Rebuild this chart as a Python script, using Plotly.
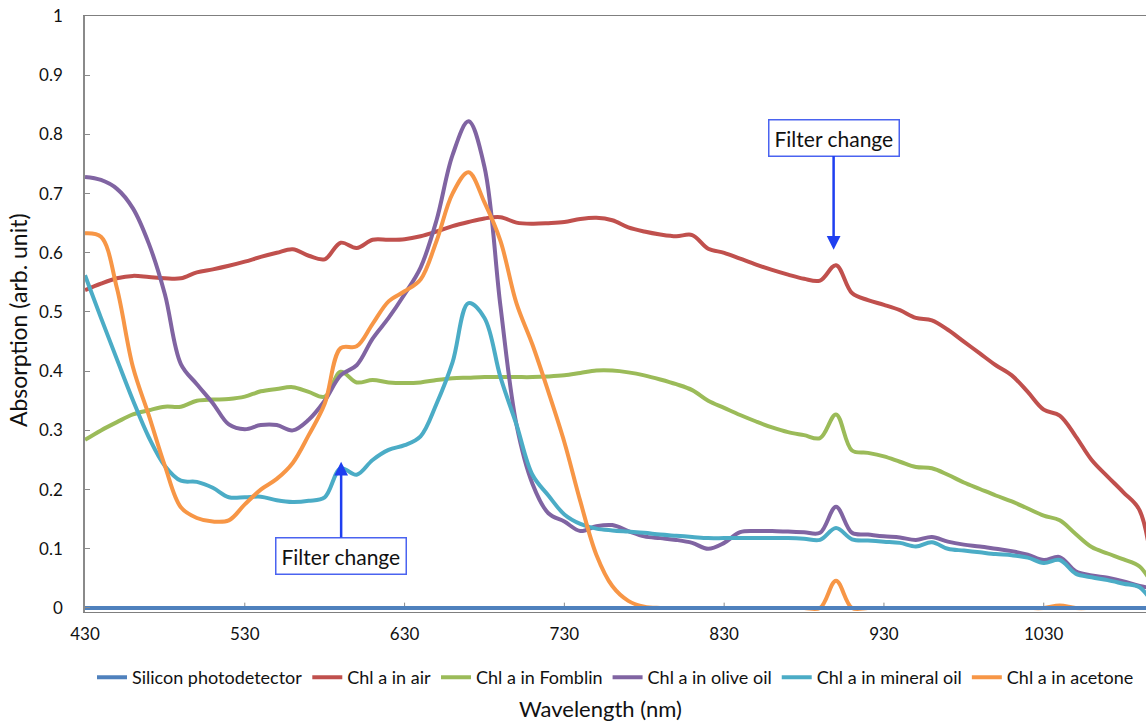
import plotly.graph_objects as go

# Wavelength grid (nm)
wavelength = list(range(430, 1101, 10))

silicon = [0.0] * len(wavelength)

chl_air = [0.537, 0.548, 0.557, 0.561, 0.559, 0.557, 0.557, 0.567, 0.572, 0.578,
           0.585, 0.593, 0.600, 0.606, 0.595, 0.589, 0.617, 0.608, 0.622, 0.622,
           0.623, 0.628, 0.636, 0.645, 0.652, 0.658, 0.660, 0.651, 0.649, 0.650,
           0.652, 0.657, 0.659, 0.655, 0.643, 0.636, 0.631, 0.628, 0.630, 0.607,
           0.600, 0.590, 0.580, 0.571, 0.563, 0.556, 0.553, 0.579, 0.532, 0.520,
           0.512, 0.503, 0.490, 0.486, 0.470, 0.450, 0.430, 0.410, 0.393, 0.365,
           0.335, 0.325, 0.290, 0.250, 0.222, 0.195, 0.165, 0.020]

chl_fomblin = [0.284, 0.300, 0.314, 0.327, 0.334, 0.340, 0.340, 0.350, 0.352, 0.353,
               0.357, 0.366, 0.370, 0.373, 0.365, 0.357, 0.399, 0.381, 0.385, 0.381,
               0.380, 0.381, 0.385, 0.388, 0.389, 0.390, 0.390, 0.390, 0.390, 0.391,
               0.393, 0.397, 0.401, 0.401, 0.398, 0.393, 0.386, 0.378, 0.368, 0.350,
               0.338, 0.326, 0.315, 0.305, 0.297, 0.292, 0.287, 0.327, 0.266, 0.262,
               0.256, 0.247, 0.238, 0.236, 0.225, 0.212, 0.201, 0.190, 0.180, 0.168,
               0.156, 0.148, 0.125, 0.103, 0.092, 0.082, 0.070, 0.030]

chl_olive = [0.728, 0.723, 0.708, 0.675, 0.615, 0.530, 0.412, 0.378, 0.346, 0.310,
             0.302, 0.309, 0.309, 0.300, 0.318, 0.350, 0.393, 0.410, 0.455, 0.490,
             0.530, 0.575, 0.655, 0.765, 0.822, 0.745, 0.510, 0.310, 0.210, 0.160,
             0.146, 0.130, 0.138, 0.140, 0.130, 0.121, 0.118, 0.115, 0.110, 0.100,
             0.110, 0.128, 0.130, 0.130, 0.129, 0.128, 0.127, 0.171, 0.127, 0.124,
             0.121, 0.119, 0.115, 0.120, 0.112, 0.107, 0.104, 0.100, 0.096, 0.090,
             0.081, 0.086, 0.062, 0.055, 0.051, 0.045, 0.037, 0.033]

chl_mineral = [0.562, 0.490, 0.420, 0.351, 0.288, 0.240, 0.215, 0.213, 0.203, 0.187,
               0.187, 0.188, 0.182, 0.179, 0.181, 0.187, 0.236, 0.225, 0.250, 0.267,
               0.275, 0.290, 0.345, 0.415, 0.515, 0.490, 0.390, 0.310, 0.225, 0.190,
               0.158, 0.142, 0.134, 0.131, 0.129, 0.127, 0.124, 0.122, 0.120, 0.118,
               0.118, 0.118, 0.118, 0.118, 0.118, 0.117, 0.115, 0.135, 0.116, 0.114,
               0.112, 0.110, 0.104, 0.111, 0.100, 0.097, 0.094, 0.091, 0.089, 0.085,
               0.076, 0.081, 0.058, 0.052, 0.047, 0.041, 0.035, 0.000]

chl_acetone = [0.633, 0.627, 0.540, 0.407, 0.325, 0.240, 0.170, 0.152, 0.146, 0.148,
               0.175, 0.200, 0.218, 0.245, 0.292, 0.345, 0.439, 0.442, 0.480, 0.518,
               0.535, 0.555, 0.620, 0.700, 0.736, 0.685, 0.620, 0.515, 0.445, 0.365,
               0.280, 0.180, 0.090, 0.037, 0.012, 0.002, 0.000, 0.000, 0.000, 0.000,
               0.000, 0.000, 0.000, 0.000, 0.000, 0.000, 0.000, 0.046, 0.000, 0.000,
               0.000, 0.000, 0.000, 0.000, 0.000, 0.000, 0.000, 0.000, 0.000, 0.000,
               0.000, 0.004, 0.000, 0.000, 0.000, 0.000, 0.000, 0.000]

x_ticks = [430, 530, 630, 730, 830, 930, 1030]
y_ticks = [0, 0.1, 0.2, 0.3, 0.4, 0.5, 0.6, 0.7, 0.8, 0.9, 1]
y_tick_text = ["0", "0.1", "0.2", "0.3", "0.4", "0.5", "0.6", "0.7", "0.8", "0.9", "1"]

series = [
    ("Chl a in air", chl_air, "#C0504D", 2),
    ("Chl a in Fomblin", chl_fomblin, "#9BBB59", 3),
    ("Chl a in olive oil", chl_olive, "#8064A2", 4),
    ("Chl a in mineral oil", chl_mineral, "#4BACC6", 5),
    ("Chl a in acetone", chl_acetone, "#F79646", 6),
]

FONT = "Lato, Open Sans, sans-serif"

fig = go.Figure()
for name, vals, color, rank in series:
    fig.add_trace(go.Scatter(
        x=wavelength, y=vals, name=name, mode="lines",
        line=dict(color=color, width=4, shape="spline", smoothing=1.0),
        legendrank=rank,
    ))

# baseline detector curve drawn last so it sits on top
fig.add_trace(go.Scatter(
    x=wavelength, y=silicon, name="Silicon photodetector", mode="lines",
    line=dict(color="#4F81BD", width=4), legendrank=1,
))

arrow_blue = "#1F3FF0"
box_blue = "#4A63F0"
for xv, yv, ay in [(898.5, 0.605, -112), (590.3, 0.247, 94)]:
    fig.add_annotation(
        x=xv, y=yv, xref="x", yref="y", ax=0, ay=ay,
        text="Filter change", showarrow=True,
        arrowhead=2, arrowsize=1.1, arrowwidth=2.5, arrowcolor=arrow_blue,
        font=dict(family=FONT, size=21, color="#111111"),
        bgcolor="white", bordercolor=box_blue, borderwidth=1.5, borderpad=5,
    )

fig.add_annotation(
    text="Wavelength (nm)", xref="paper", yref="paper",
    x=0.486, y=-0.162, showarrow=False,
    font=dict(family=FONT, size=22, color="#111111"),
    xanchor="center", yanchor="middle",
)
fig.add_annotation(
    text="Absorption (arb. unit)", xref="paper", yref="paper",
    x=-0.063, y=0.49, showarrow=False, textangle=-90,
    font=dict(family=FONT, size=23, color="#111111"),
    xanchor="center", yanchor="middle",
)

fig.update_layout(
    width=1146, height=726,
    margin=dict(l=85, r=0, t=16, b=114),
    paper_bgcolor="white", plot_bgcolor="white",
    font=dict(family=FONT, color="#111111"),
    legend=dict(
        orientation="h", x=0.50, y=-0.11, xanchor="center", yanchor="middle",
        font=dict(family=FONT, size=18, color="#111111"),
        itemwidth=30, tracegroupgap=0,
    ),
    showlegend=True,
)
fig.update_xaxes(
    range=[430, 1094], tickvals=x_ticks, ticktext=[str(v) for v in x_ticks],
    showgrid=False, zeroline=False,
    showline=True, linecolor="#7F7F7F", linewidth=1.2, mirror=True,
    ticks="", tickfont=dict(family=FONT, size=17, color="#111111"),
    ticklabelstandoff=6, layer="below traces",
)
fig.update_yaxes(
    range=[-0.0068, 1.0], tickvals=y_ticks, ticktext=y_tick_text,
    showgrid=False, zeroline=False,
    showline=True, linecolor="#8A8A8A", linewidth=1.5,
    ticks="inside", ticklen=5, tickcolor="#8A8A8A",
    tickfont=dict(family=FONT, size=17, color="#111111"),
    ticklabelstandoff=17,
)

# short inside tick marks rising from the zero baseline
for xv in x_ticks[1:]:
    fig.add_shape(type="line", xref="x", yref="y", x0=xv, x1=xv, y0=0, y1=0.009,
                  line=dict(color="#8A8A8A", width=1), layer="below")

fig.write_html("out.html")
